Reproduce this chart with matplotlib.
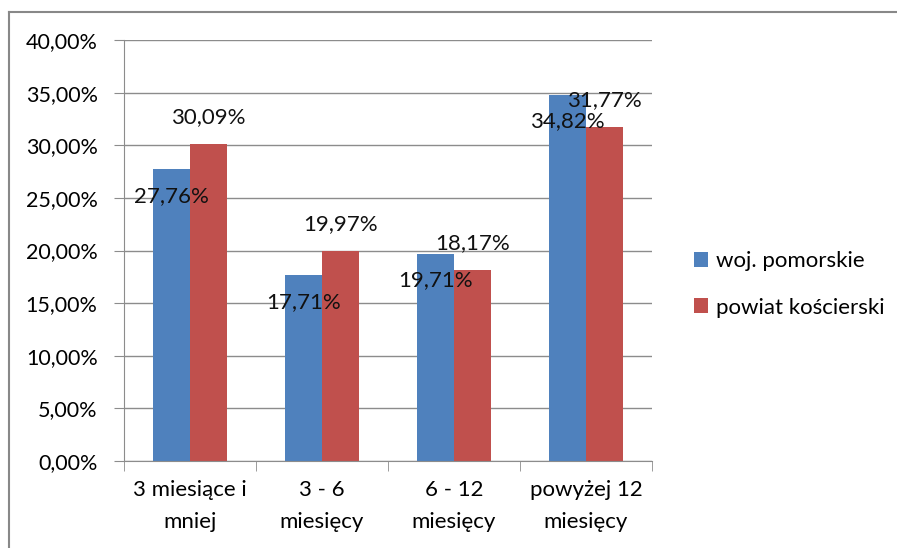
import matplotlib.pyplot as plt
from matplotlib.lines import Line2D
from matplotlib.ticker import FuncFormatter, FixedLocator

categories = ["3 miesiące i\nmniej", "3 - 6\nmiesięcy", "6 - 12\nmiesięcy", "powyżej 12\nmiesięcy"]
series_names = ["woj. pomorskie", "powiat kościerski"]
woj = [27.76, 17.71, 19.71, 34.82]
powiat = [30.09, 19.97, 18.17, 31.77]
yticks = [0, 5, 10, 15, 20, 25, 30, 35, 40]

blue = "#4F81BD"
red = "#C0504D"
grid_c = "#8C8C8C"

plt.rcParams['font.family'] = ['Lato', 'DejaVu Sans']

fig = plt.figure(figsize=(8.97, 5.48), dpi=100)
ax = fig.add_axes([124 / 897, 1 - 461 / 548, 528 / 897, 421 / 548])

x = range(len(categories))
w = 0.28
b1 = ax.bar([i - w / 2 for i in x], woj, width=w, color=blue, label=series_names[0], zorder=2)
b2 = ax.bar([i + w / 2 for i in x], powiat, width=w, color=red, label=series_names[1], zorder=2)

def fmt(v):
    return f"{v:.2f}".replace(".", ",") + "%"

for rect, v in zip(b1, woj):
    ax.annotate(fmt(v), (rect.get_x() + rect.get_width() / 2, v), xytext=(0, -27),
                textcoords='offset pixels', ha='center', va='center', fontsize=16, color="#111111", zorder=3)
for rect, v in zip(b2, powiat):
    ax.annotate(fmt(v), (rect.get_x() + rect.get_width() / 2, v), xytext=(0, 27),
                textcoords='offset pixels', ha='center', va='center', fontsize=16, color="#111111", zorder=3)

ax.set_xlim(-0.5, len(categories) - 0.5)
ax.set_ylim(0, 40)
ax.yaxis.set_major_locator(FixedLocator(yticks))
ax.yaxis.set_major_formatter(FuncFormatter(lambda v, p: f"{v:.2f}".replace(".", ",") + "%"))
ax.grid(axis='y', color=grid_c, linewidth=1, zorder=0)
ax.set_axisbelow(True)

ax.set_xticks(list(x))
ax.set_xticklabels(categories, fontsize=16, linespacing=1.75)
ax.tick_params(axis='x', which='major', length=0, pad=14)
ax.set_xticks([i - 0.5 for i in range(len(categories) + 1)], minor=True)
ax.tick_params(axis='x', which='minor', length=7, color=grid_c, direction='out')
ax.tick_params(axis='y', length=7, color=grid_c, labelsize=15.5, pad=12)

for s in ['top', 'right']:
    ax.spines[s].set_visible(False)
ax.spines['left'].set_color(grid_c)
ax.spines['bottom'].set_color(grid_c)

fig.legend(handles=[b1, b2], labels=series_names, loc='upper left',
           bbox_to_anchor=(674 / 897, 1 - 231 / 548), frameon=False, fontsize=16,
           handlelength=0.65, handleheight=0.65, handletextpad=0.35, labelspacing=1.2)

# chart frame (only top and left edges visible in the crop)
fig.add_artist(Line2D([9 / 897, 1], [1 - 12 / 548, 1 - 12 / 548], color="#888888", linewidth=1.5, transform=fig.transFigure))
fig.add_artist(Line2D([9 / 897, 9 / 897], [0, 1 - 12 / 548], color="#888888", linewidth=1.5, transform=fig.transFigure))

fig.savefig("out.png", dpi=100)
